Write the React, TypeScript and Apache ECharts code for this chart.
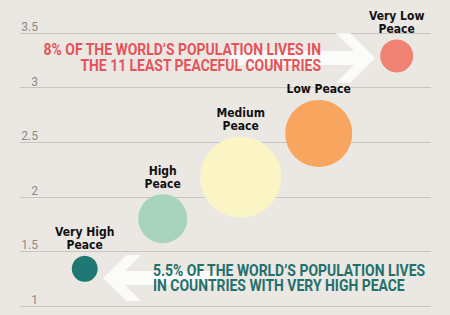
import React, { useEffect, useRef } from "react";
import * as echarts from "echarts";

const categories = ["Very High\nPeace", "High\nPeace", "Medium\nPeace", "Low Peace", "Very Low\nPeace"];
const peaceScore = [1.34, 1.8, 2.18, 2.58, 3.29];
const bubbleSize = [26, 49, 81, 67, 33];
const bubbleColors = ["#1f7873", "#a7d3bc", "#fbf5c6", "#f8a55f", "#f08273"];
const topNote = ["8% OF THE WORLD\u2019S POPULATION LIVES IN", "THE 11 LEAST PEACEFUL COUNTRIES"];
const bottomNote = ["5.5% OF THE WORLD\u2019S POPULATION LIVES", "IN COUNTRIES WITH VERY HIGH PEACE"];
const yMin = 1;
const yMax = 3.5;
const yStep = 0.5;

const condensed = "'Liberation Sans Narrow', 'DejaVu Sans Condensed', Roboto, sans-serif";

export default function App() {
  const ref = useRef<HTMLDivElement>(null);
  useEffect(() => {
    document.body.style.margin = "0";
    document.body.style.background = "#ebe8e4";
    const chart = echarts.init(ref.current!, null, { renderer: "svg" });
    const arrowFill = "rgba(255,255,255,0.8)";
    chart.setOption({
      animation: false,
      backgroundColor: "#ebe8e4",
      grid: { left: 20, right: 19, top: 33, bottom: 9, containLabel: false },
      xAxis: { type: "value", min: 0.17, max: 5.44, show: false },
      yAxis: {
        type: "value",
        min: yMin,
        max: yMax,
        interval: yStep,
        axisLine: { show: false },
        axisTick: { show: false },
        splitLine: { lineStyle: { color: "#c9c6c2", width: 1 } },
        axisLabel: {
          inside: true,
          align: "right",
          verticalAlign: "bottom",
          margin: 18,
          padding: [0, 0, 0, 0],
          color: "#8a8a8a",
          fontSize: 12,
          fontFamily: "Roboto, sans-serif",
        },
      },
      graphic: [
        {
          type: "polygon",
          z: 1,
          shape: {
            points: [
              [230, 51], [354, 51], [336, 33], [350, 33], [375, 58],
              [350, 83], [336, 83], [354, 65], [230, 65],
            ],
          },
          style: { fill: arrowFill },
        },
        {
          type: "polygon",
          z: 1,
          shape: {
            points: [
              [220, 271], [125, 271], [141, 255], [127, 255], [103, 278],
              [127, 301], [141, 301], [125, 285], [220, 285],
            ],
          },
          style: { fill: arrowFill },
        },
        {
          type: "text", z: 5, x: 321, y: 50, scaleX: 0.82,
          style: { text: topNote[0], textAlign: "right", textVerticalAlign: "middle", fill: "#e4545a", font: "bold 17px Roboto, sans-serif" },
        },
        {
          type: "text", z: 5, x: 321, y: 66, scaleX: 0.82,
          style: { text: topNote[1], textAlign: "right", textVerticalAlign: "middle", fill: "#e4545a", font: "bold 17px Roboto, sans-serif" },
        },
        {
          type: "text", z: 5, x: 153, y: 271, scaleX: 0.82,
          style: { text: bottomNote[0], textAlign: "left", textVerticalAlign: "middle", fill: "#23706c", font: "bold 17px Roboto, sans-serif" },
        },
        {
          type: "text", z: 5, x: 153, y: 286, scaleX: 0.82,
          style: { text: bottomNote[1], textAlign: "left", textVerticalAlign: "middle", fill: "#23706c", font: "bold 17px Roboto, sans-serif" },
        },
      ],
      series: [
        {
          type: "scatter",
          z: 3,
          data: categories.map((c, i) => ({
            name: c,
            value: [i + 1, peaceScore[i]],
            symbolSize: bubbleSize[i],
            itemStyle: { color: bubbleColors[i], opacity: 1 },
          })),
          label: {
            show: true,
            position: "top",
            distance: 4,
            formatter: "{b}",
            color: "#111",
            fontSize: 12,
            lineHeight: 13,
            fontWeight: "bold",
            fontFamily: condensed,
            align: "center",
          },
          emphasis: { disabled: true },
        },
      ],
    });
    return () => chart.dispose();
  }, []);
  return <div ref={ref} style={{ width: 450, height: 315 }} />;
}
